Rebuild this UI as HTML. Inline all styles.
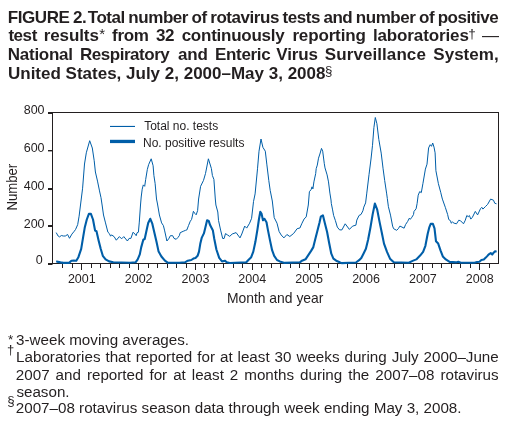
<!DOCTYPE html>
<html><head><meta charset="utf-8"><style>
html,body{margin:0;padding:0;background:#fff;}
svg{display:block;will-change:transform}
text{font-family:"Liberation Sans",sans-serif;fill:#231f20;white-space:pre}
</style></head><body>
<svg width="510" height="430" viewBox="0 0 510 430">
<rect width="510" height="430" fill="#fff"/>
<text x="7.86" y="22.80" font-weight="700" font-size="17" letter-spacing="-0.45">FIGURE</text>
<text x="72.92" y="22.80" font-weight="700" font-size="17" letter-spacing="-0.45">2.</text>
<text x="87.73" y="22.80" font-weight="700" font-size="17" letter-spacing="-0.45">Total</text>
<text x="128.37" y="22.80" font-weight="700" font-size="17" letter-spacing="-0.45">number</text>
<text x="191.54" y="22.80" font-weight="700" font-size="17" letter-spacing="-0.45">of</text>
<text x="210.23" y="22.80" font-weight="700" font-size="17" letter-spacing="-0.45">rotavirus</text>
<text x="282.46" y="22.80" font-weight="700" font-size="17" letter-spacing="-0.45">tests</text>
<text x="323.43" y="22.80" font-weight="700" font-size="17" letter-spacing="-0.45">and</text>
<text x="355.83" y="22.80" font-weight="700" font-size="17" letter-spacing="-0.45">number</text>
<text x="419.00" y="22.80" font-weight="700" font-size="17" letter-spacing="-0.45">of</text>
<text x="437.69" y="22.80" font-weight="700" font-size="17" letter-spacing="-0.45">positive</text>
<text x="8.39" y="41.40" font-weight="700" font-size="17" letter-spacing="-0.440">test</text>
<text x="43.68" y="41.40" font-weight="700" font-size="17" letter-spacing="-0.089">results</text>
<text x="99.36" y="39.40" font-weight="400" font-size="15" letter-spacing="0.000">*</text>
<text x="112.11" y="41.40" font-weight="700" font-size="17" letter-spacing="-0.312">from</text>
<text x="155.91" y="41.40" font-weight="700" font-size="17" letter-spacing="-0.251">32</text>
<text x="181.64" y="41.40" font-weight="700" font-size="17" letter-spacing="-0.239">continuously</text>
<text x="292.38" y="41.40" font-weight="700" font-size="17" letter-spacing="-0.144">reporting</text>
<text x="372.91" y="41.40" font-weight="700" font-size="17" letter-spacing="-0.121">laboratories</text>
<text x="468.19" y="38.00" font-weight="400" font-size="13.5" letter-spacing="0.000">†</text>
<text x="482.00" y="41.40" font-weight="400" font-size="17" letter-spacing="0.000">—</text>
<text x="7.86" y="60.4" font-weight="700" font-size="17" letter-spacing="-0.289">National</text>
<text x="79.96" y="60.4" font-weight="700" font-size="17" letter-spacing="-0.466">Respiratory</text>
<text x="178.00" y="60.4" font-weight="700" font-size="17" letter-spacing="-0.158">and</text>
<text x="215.06" y="60.4" font-weight="700" font-size="17" letter-spacing="-0.334">Enteric</text>
<text x="276.28" y="60.4" font-weight="700" font-size="17" letter-spacing="-0.101">Virus</text>
<text x="324.81" y="60.4" font-weight="700" font-size="17" letter-spacing="0.082">Surveillance</text>
<text x="433.31" y="60.4" font-weight="700" font-size="17" letter-spacing="0.021">System,</text>
<text x="7.98" y="79.2" font-weight="700" font-size="17" letter-spacing="0">United States, July 2, 2000–May 3, 2008</text>
<text x="325.05" y="74.7" font-weight="400" font-size="13.3" letter-spacing="0">§</text>
<rect x="52" y="112" width="447" height="1" fill="#231f20"/>
<rect x="498" y="112" width="1" height="152" fill="#231f20"/>
<rect x="52" y="112" width="1" height="152" fill="#231f20"/>
<rect x="52" y="263" width="447" height="1" fill="#231f20"/>
<rect x="48" y="112" width="4.5" height="2" fill="#231f20"/>
<rect x="48" y="150" width="4.5" height="1.4" fill="#231f20"/>
<rect x="48" y="188" width="4.5" height="2" fill="#231f20"/>
<rect x="48" y="225" width="4.5" height="2" fill="#231f20"/>
<rect x="48" y="263" width="4.5" height="2" fill="#231f20"/>
<rect x="62" y="264" width="1" height="4" fill="#231f20"/>
<rect x="72" y="264" width="1" height="4" fill="#231f20"/>
<rect x="81" y="264" width="1" height="6" fill="#231f20"/>
<rect x="91" y="264" width="1" height="4" fill="#231f20"/>
<rect x="100" y="264" width="1" height="4" fill="#231f20"/>
<rect x="110" y="264" width="1" height="4" fill="#231f20"/>
<rect x="119" y="264" width="1" height="4" fill="#231f20"/>
<rect x="129" y="264" width="1" height="4" fill="#231f20"/>
<rect x="138" y="264" width="1" height="6" fill="#231f20"/>
<rect x="148" y="264" width="1" height="4" fill="#231f20"/>
<rect x="157" y="264" width="1" height="4" fill="#231f20"/>
<rect x="167" y="264" width="1" height="4" fill="#231f20"/>
<rect x="176" y="264" width="1" height="4" fill="#231f20"/>
<rect x="186" y="264" width="1" height="4" fill="#231f20"/>
<rect x="195" y="264" width="1" height="6" fill="#231f20"/>
<rect x="204" y="264" width="1" height="4" fill="#231f20"/>
<rect x="214" y="264" width="1" height="4" fill="#231f20"/>
<rect x="223" y="264" width="1" height="4" fill="#231f20"/>
<rect x="233" y="264" width="1" height="4" fill="#231f20"/>
<rect x="242" y="264" width="1" height="4" fill="#231f20"/>
<rect x="252" y="264" width="1" height="6" fill="#231f20"/>
<rect x="261" y="264" width="1" height="4" fill="#231f20"/>
<rect x="271" y="264" width="1" height="4" fill="#231f20"/>
<rect x="280" y="264" width="1" height="4" fill="#231f20"/>
<rect x="290" y="264" width="1" height="4" fill="#231f20"/>
<rect x="299" y="264" width="1" height="4" fill="#231f20"/>
<rect x="309" y="264" width="1" height="6" fill="#231f20"/>
<rect x="318" y="264" width="1" height="4" fill="#231f20"/>
<rect x="328" y="264" width="1" height="4" fill="#231f20"/>
<rect x="337" y="264" width="1" height="4" fill="#231f20"/>
<rect x="347" y="264" width="1" height="4" fill="#231f20"/>
<rect x="356" y="264" width="1" height="4" fill="#231f20"/>
<rect x="366" y="264" width="1" height="6" fill="#231f20"/>
<rect x="375" y="264" width="1" height="4" fill="#231f20"/>
<rect x="385" y="264" width="1" height="4" fill="#231f20"/>
<rect x="394" y="264" width="1" height="4" fill="#231f20"/>
<rect x="403" y="264" width="1" height="4" fill="#231f20"/>
<rect x="413" y="264" width="1" height="4" fill="#231f20"/>
<rect x="422" y="264" width="1" height="6" fill="#231f20"/>
<rect x="432" y="264" width="1" height="4" fill="#231f20"/>
<rect x="441" y="264" width="1" height="4" fill="#231f20"/>
<rect x="451" y="264" width="1" height="4" fill="#231f20"/>
<rect x="460" y="264" width="1" height="4" fill="#231f20"/>
<rect x="470" y="264" width="1" height="4" fill="#231f20"/>
<rect x="479" y="264" width="1" height="6" fill="#231f20"/>
<rect x="489" y="264" width="1" height="4" fill="#231f20"/>
<text x="23.73" y="113.5" font-weight="400" font-size="12.5">800</text>
<text x="23.73" y="151.5" font-weight="400" font-size="12.5">600</text>
<text x="23.73" y="189.8" font-weight="400" font-size="12.5">400</text>
<text x="23.73" y="227.8" font-weight="400" font-size="12.5">200</text>
<text x="35.84" y="263.6" font-weight="400" font-size="12.5">0</text>
<text x="67.91" y="282.8" font-weight="400" font-size="12.5">2001</text>
<text x="124.77" y="282.8" font-weight="400" font-size="12.5">2002</text>
<text x="181.58" y="282.8" font-weight="400" font-size="12.5">2003</text>
<text x="238.34" y="282.8" font-weight="400" font-size="12.5">2004</text>
<text x="295.27" y="282.8" font-weight="400" font-size="12.5">2005</text>
<text x="352.13" y="282.8" font-weight="400" font-size="12.5">2006</text>
<text x="409.02" y="282.8" font-weight="400" font-size="12.5">2007</text>
<text x="465.83" y="282.8" font-weight="400" font-size="12.5">2008</text>
<text x="226.88" y="302.6" font-weight="400" font-size="13.9">Month and year</text>
<text transform="translate(17.0,187.1) rotate(-90) scale(0.9,1)" text-anchor="middle" font-size="14.6">Number</text>
<path d="M56.2,232.6 L58.1,236.0 L59.5,236.9 L61.4,235.5 L63.3,236.0 L65.3,236.0 L67.6,234.5 L69.5,238.3 L71.9,234.1 L74.3,231.2 L75.6,229.4 L77.7,224.6 L79.1,216.2 L80.5,205.0 L82.6,188.2 L84.5,164.0 L86.3,152.8 L89.7,140.7 L92.3,148.0 L94.2,160.7 L95.4,172.0 L97.5,181.1 L99.5,190.9 L101.0,197.7 L102.1,205.0 L103.5,215.0 L105.3,222.1 L107.9,232.2 L109.3,233.5 L110.6,236.2 L111.5,234.9 L114.1,236.6 L116.3,240.2 L119.4,236.6 L121.6,238.8 L123.8,236.6 L127.4,241.0 L129.1,238.4 L130.9,238.4 L133.1,232.2 L134.9,234.0 L136.2,235.7 L137.1,232.7 L138.4,232.2 L139.3,222.1 L140.5,205.0 L141.2,197.0 L142.2,189.2 L143.3,184.9 L144.7,186.3 L145.7,179.4 L147.3,169.6 L148.6,164.7 L151.2,158.8 L153.1,165.7 L153.9,175.5 L155.1,183.3 L156.5,199.0 L157.5,204.0 L159.4,215.0 L161.6,222.9 L163.4,225.6 L164.7,230.9 L166.9,241.0 L168.7,238.8 L170.4,235.7 L172.7,235.7 L174.0,238.4 L176.2,239.3 L177.9,237.5 L179.3,235.7 L180.2,232.7 L183.2,231.3 L185.4,230.4 L186.8,230.0 L188.5,225.6 L190.3,221.2 L191.6,219.4 L193.4,211.3 L194.8,213.4 L196.2,214.8 L197.6,210.6 L198.6,199.0 L200.6,186.3 L203.5,180.4 L205.5,173.5 L208.4,158.8 L211.4,168.6 L212.4,175.5 L213.9,179.4 L215.3,199.0 L215.9,205.0 L217.8,212.0 L218.5,220.4 L220.6,230.1 L222.7,238.5 L224.1,238.5 L225.5,233.6 L227.6,235.0 L229.7,236.4 L232.2,234.0 L236.1,232.6 L240.0,237.9 L241.8,234.0 L244.7,226.1 L246.7,228.1 L249.6,223.2 L251.6,218.3 L253.5,201.6 L255.1,193.9 L257.5,168.8 L259.0,151.2 L261.0,139.0 L262.9,147.3 L265.3,151.2 L266.9,164.9 L268.8,180.6 L270.2,190.4 L272.3,201.0 L274.2,217.6 L277.0,223.2 L279.1,231.5 L281.2,235.0 L283.9,237.9 L286.9,234.5 L289.8,236.5 L293.7,233.4 L297.1,228.7 L299.9,228.0 L302.0,223.2 L304.1,219.0 L306.2,216.9 L308.3,205.0 L309.4,191.7 L311.1,189.6 L312.0,186.8 L312.9,188.9 L313.9,181.9 L315.7,173.5 L316.2,168.6 L317.3,165.1 L318.5,158.2 L319.9,154.0 L321.5,148.4 L322.7,151.2 L324.3,163.7 L325.0,167.9 L327.1,174.9 L328.5,181.9 L329.9,193.1 L331.0,200.0 L331.3,203.4 L332.6,209.9 L333.6,215.4 L335.4,220.6 L337.3,227.1 L339.6,229.9 L341.9,229.9 L345.2,223.8 L349.4,229.4 L352.6,226.1 L355.9,225.2 L356.8,220.1 L359.1,215.4 L361.0,214.5 L362.9,210.8 L363.8,207.1 L365.6,202.9 L366.7,193.9 L369.0,174.7 L371.0,159.0 L372.5,145.3 L373.9,127.6 L375.3,117.5 L376.9,123.7 L378.8,139.4 L381.2,153.1 L383.1,168.8 L384.7,180.6 L386.7,193.9 L387.3,198.4 L388.4,206.7 L390.5,215.1 L392.6,226.1 L393.6,228.7 L396.7,230.3 L398.3,228.7 L399.9,226.1 L402.0,227.1 L404.1,228.2 L405.6,224.5 L407.7,221.4 L409.3,218.2 L410.3,219.3 L411.9,217.2 L413.5,214.6 L414.0,211.4 L416.1,208.8 L417.1,203.6 L418.2,195.2 L419.7,191.6 L421.3,192.6 L422.9,183.7 L425.4,169.1 L427.0,164.2 L428.6,147.9 L430.2,144.7 L431.5,146.3 L432.7,143.0 L434.0,147.1 L435.1,152.8 L435.9,170.7 L438.4,183.7 L440.8,192.7 L441.6,196.0 L442.4,199.1 L445.3,207.3 L447.6,214.4 L448.8,219.6 L450.6,220.8 L451.2,223.2 L452.4,222.0 L454.1,223.2 L456.5,223.8 L458.8,220.2 L460.6,220.8 L463.5,223.8 L465.3,220.2 L466.8,215.5 L468.2,216.7 L469.4,215.5 L470.8,219.1 L472.4,217.3 L475.3,211.4 L477.6,214.9 L480.6,208.5 L481.8,207.3 L482.9,209.1 L485.3,206.7 L487.6,204.4 L490.6,199.1 L493.5,200.2 L494.7,203.2 L496.5,203.8" fill="none" stroke="#005ea8" stroke-width="1.0" stroke-linejoin="round"/>
<path d="M56.2,261.2 L58.1,261.9 L60.5,262.4 L63.3,262.9 L69.1,262.9 L71.4,260.8 L73.8,260.6 L76.3,260.7 L78.4,257.2 L81.2,248.8 L83.3,236.2 L84.7,227.8 L86.8,219.5 L88.9,213.9 L90.9,213.9 L93.0,219.5 L95.1,230.6 L96.5,231.3 L98.6,240.4 L100.7,248.8 L102.8,255.8 L105.6,259.3 L109.1,261.4 L113.3,262.3 L130.0,262.7 L135.6,262.3 L137.7,259.3 L139.8,254.4 L141.2,247.4 L143.3,239.7 L144.7,239.0 L146.8,229.2 L148.2,223.0 L150.3,218.8 L152.3,223.7 L154.4,232.7 L156.5,241.8 L158.6,251.6 L161.4,256.5 L164.9,260.7 L167.7,262.7 L179.2,262.7 L185.0,262.3 L187.8,260.7 L191.3,260.0 L193.4,258.6 L195.5,257.9 L197.6,255.8 L199.0,251.6 L200.4,243.2 L201.8,237.6 L203.9,233.4 L205.3,227.8 L207.1,220.2 L208.7,220.9 L210.1,225.1 L212.9,230.6 L214.3,239.0 L216.4,249.5 L219.2,257.9 L222.0,261.4 L224.8,260.7 L226.9,262.3 L229.7,263.0 L246.3,262.3 L248.4,260.0 L251.2,257.2 L253.3,251.6 L255.4,241.8 L257.5,229.2 L258.9,219.5 L260.3,211.8 L261.6,213.9 L263.0,220.2 L264.4,218.8 L266.5,222.3 L267.9,229.9 L270.0,240.4 L272.1,250.2 L274.2,255.8 L277.0,260.0 L279.8,261.4 L284.7,262.9 L299.9,262.3 L302.0,260.7 L305.5,259.3 L308.3,255.1 L311.1,250.9 L313.2,247.4 L315.3,239.0 L317.3,231.3 L319.4,223.0 L320.8,216.7 L322.9,215.3 L325.0,223.7 L327.1,232.0 L329.2,243.2 L331.3,253.7 L333.4,258.6 L336.2,260.7 L339.7,262.3 L341.6,263.1 L356.0,262.5 L359.1,260.2 L361.3,257.9 L363.6,253.4 L365.9,248.8 L368.1,239.8 L370.4,227.7 L372.7,214.1 L374.9,203.5 L377.2,209.6 L379.5,221.6 L381.7,232.2 L384.0,243.6 L387.0,251.9 L390.0,258.7 L393.8,262.3 L408.8,262.7 L412.6,260.9 L416.3,259.4 L420.1,255.6 L423.1,251.9 L425.4,245.8 L427.7,233.7 L429.2,227.7 L430.7,223.9 L432.9,223.9 L434.5,228.4 L436.0,241.3 L438.2,243.6 L440.5,250.3 L442.8,256.4 L445.8,259.4 L449.6,261.9 L455.9,262.4 L458.3,261.7 L460.8,262.7 L474.5,262.7 L477.0,262.0 L479.4,261.7 L481.4,260.0 L483.8,259.5 L485.8,257.6 L487.7,255.6 L489.2,254.1 L490.7,253.1 L492.2,254.6 L493.6,252.7 L495.1,251.2 L496.6,251.7" fill="none" stroke="#005ea8" stroke-width="2.1" stroke-linejoin="round"/>
<rect x="110" y="125.9" width="25" height="1.1" fill="#005ea8"/>
<rect x="110" y="139.8" width="25" height="3.3" fill="#005ea8"/>
<text x="144.13" y="129.7" font-weight="400" font-size="12" letter-spacing="0">Total no. tests</text>
<text x="143.02" y="146.8" font-weight="400" font-size="12" letter-spacing="0">No. positive results</text>
<text x="7.88" y="344.2" font-weight="400" font-size="13.5" letter-spacing="0">*</text>
<text x="16.02" y="344.6" font-weight="400" font-size="15.2" letter-spacing="0">3-week moving averages.</text>
<text x="7.02" y="353.9" font-weight="400" font-size="13" letter-spacing="0">†</text>
<text x="16.05" y="362.30" font-weight="400" font-size="15.2" letter-spacing="0">Laboratories</text>
<text x="105.44" y="362.30" font-weight="400" font-size="15.2" letter-spacing="0">that</text>
<text x="135.73" y="362.30" font-weight="400" font-size="15.2" letter-spacing="0">reported</text>
<text x="197.26" y="362.30" font-weight="400" font-size="15.2" letter-spacing="0">for</text>
<text x="219.94" y="362.30" font-weight="400" font-size="15.2" letter-spacing="0">at</text>
<text x="237.56" y="362.30" font-weight="400" font-size="15.2" letter-spacing="0">least</text>
<text x="274.61" y="362.30" font-weight="400" font-size="15.2" letter-spacing="0">30</text>
<text x="296.46" y="362.30" font-weight="400" font-size="15.2" letter-spacing="0">weeks</text>
<text x="344.47" y="362.30" font-weight="400" font-size="15.2" letter-spacing="0">during</text>
<text x="391.64" y="362.30" font-weight="400" font-size="15.2" letter-spacing="0">July</text>
<text x="423.60" y="362.30" font-weight="400" font-size="15.2" letter-spacing="0">2000–June</text>
<text x="15.84" y="379.50" font-weight="400" font-size="15.2" letter-spacing="0">2007</text>
<text x="55.60" y="379.50" font-weight="400" font-size="15.2" letter-spacing="0">and</text>
<text x="86.90" y="379.50" font-weight="400" font-size="15.2" letter-spacing="0">reported</text>
<text x="149.44" y="379.50" font-weight="400" font-size="15.2" letter-spacing="0">for</text>
<text x="173.14" y="379.50" font-weight="400" font-size="15.2" letter-spacing="0">at</text>
<text x="191.78" y="379.50" font-weight="400" font-size="15.2" letter-spacing="0">least</text>
<text x="229.83" y="379.50" font-weight="400" font-size="15.2" letter-spacing="0">2</text>
<text x="244.25" y="379.50" font-weight="400" font-size="15.2" letter-spacing="0">months</text>
<text x="300.03" y="379.50" font-weight="400" font-size="15.2" letter-spacing="0">during</text>
<text x="348.21" y="379.50" font-weight="400" font-size="15.2" letter-spacing="0">the</text>
<text x="375.30" y="379.50" font-weight="400" font-size="15.2" letter-spacing="0">2007–08</text>
<text x="440.40" y="379.50" font-weight="400" font-size="15.2" letter-spacing="0">rotavirus</text>
<text x="16.38" y="396.6" font-weight="400" font-size="15.2" letter-spacing="0">season.</text>
<text x="7.15" y="405.0" font-weight="400" font-size="13.3" letter-spacing="0">§</text>
<text x="15.74" y="413.4" font-weight="400" font-size="15.2" letter-spacing="0">2007–08 rotavirus season data through week ending May 3, 2008.</text>
</svg>
</body></html>
